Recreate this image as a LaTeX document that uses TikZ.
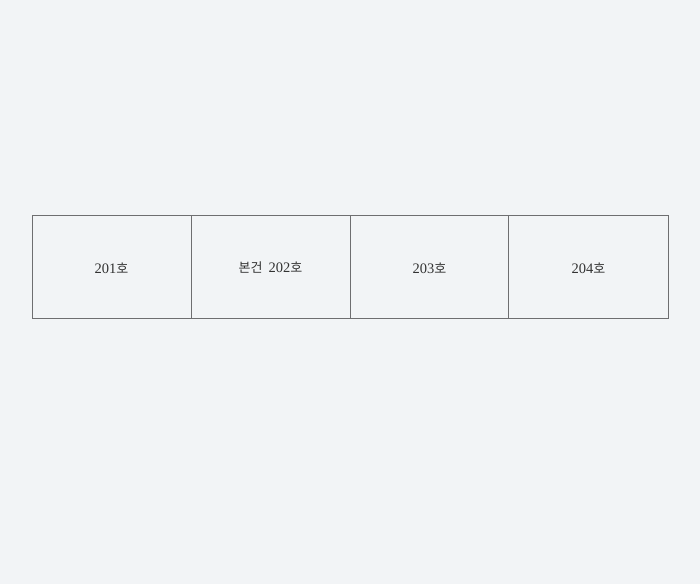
\documentclass[tikz,border=0pt]{standalone}
\usepackage{fontspec}
\setmainfont{Liberation Serif}
\newfontfamily\kr{Noto Sans CJK KR}
\definecolor{paper}{RGB}{242,244,246}
\definecolor{wall}{RGB}{110,110,112}
\definecolor{ink}{RGB}{50,50,50}
\begin{document}
\begin{tikzpicture}[x=1pt,y=-1pt,
  roomlabel/.style={text=ink,font=\fontsize{14.5}{16}\selectfont,inner sep=0pt},
  wallline/.style={draw=wall,line width=0.9pt}]
\useasboundingbox[fill=paper] (0,0) rectangle (700,584);
\coordinate (tl) at (32.3,215.7);
\coordinate (br) at (668.3,318.3);
\draw[wallline] (tl) rectangle (br);
\coordinate (d1t) at (191.3,215.7); \coordinate (d1b) at (191.3,318.3);
\coordinate (d2t) at (350,215.7);   \coordinate (d2b) at (350,318.3);
\coordinate (d3t) at (508.5,215.7); \coordinate (d3b) at (508.5,318.3);
\draw[wallline] (d1t) -- (d1b);
\draw[wallline] (d2t) -- (d2b);
\draw[wallline] (d3t) -- (d3b);
\node[roomlabel] (r201) at (111.5,268) {201{\kr\fontsize{13}{15}\selectfont 호}};
\node[roomlabel] (r202) at (270.5,268) {{\kr\fontsize{13}{15}\selectfont 본건}\hspace{6pt}202{\kr\fontsize{13}{15}\selectfont 호}};
\node[roomlabel] (r203) at (429.5,268) {203{\kr\fontsize{13}{15}\selectfont 호}};
\node[roomlabel] (r204) at (588.5,268) {204{\kr\fontsize{13}{15}\selectfont 호}};
\end{tikzpicture}
\end{document}
